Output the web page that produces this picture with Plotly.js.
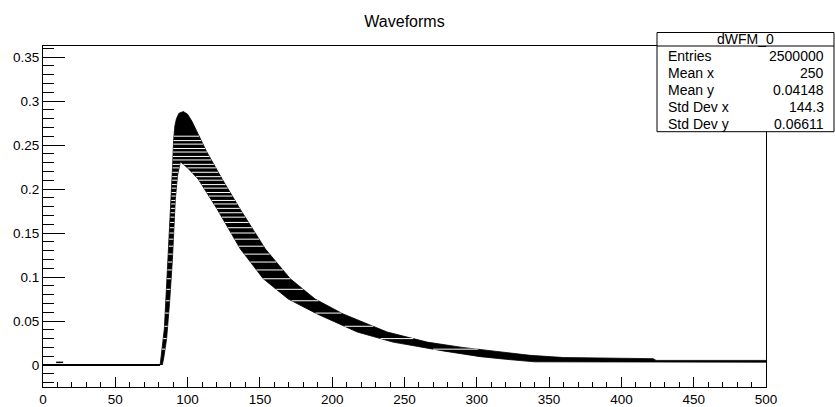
<!DOCTYPE html>
<html>
<head>
<meta charset="utf-8">
<script src="https://cdn.plot.ly/plotly-3.0.1.min.js"></script>
<style>html,body{margin:0;padding:0;background:#fff;}#chart{width:835px;height:407px;}</style>
</head>
<body>
<div id="chart"></div>
<script>
// ---- data ----
const baselineX = [0, 81];
const baselineY = [0, 0];

// upper envelope of the waveform band (leading edge, peak, decay, tail)
const upperX = [81, 83.9, 85.7, 87.5, 88.8, 89.6, 90.3, 91.2, 92.3, 94, 97, 100, 103, 107, 113, 124, 136.4, 153.7, 171, 188.2, 207.6, 238, 265.7, 290, 311.3, 336.9, 360, 422, 424, 500];
const upperY = [0, 0.041, 0.098, 0.15, 0.19, 0.225, 0.255, 0.272, 0.28, 0.286, 0.288, 0.285, 0.277, 0.263, 0.243, 0.211, 0.177, 0.132, 0.098, 0.075, 0.058, 0.0375, 0.026, 0.02, 0.016, 0.011, 0.0085, 0.0072, 0.0052, 0.0052];

// lower envelope of the band (tail back to the peak, then inner side of leading edge)
const lowerX = [500, 400, 340, 320, 302.3, 276.7, 242, 217.3, 189.6, 169.6, 152.3, 136.4, 120.5, 107.4, 100, 95, 93, 91.5, 89.5, 87.5, 85.5, 83.5, 82.5];
const lowerY = [0.0032, 0.0034, 0.0036, 0.0065, 0.0095, 0.016, 0.026, 0.0375, 0.058, 0.075, 0.098, 0.132, 0.177, 0.211, 0.224, 0.231, 0.215, 0.188, 0.12, 0.07, 0.03, 0.008, 0];

// y levels of the empty (white) bin rows crossing the band
const emptyRowsY = [0.260, 0.255, 0.251, 0.246, 0.242, 0.237, 0.233, 0.228, 0.224, 0.219, 0.214, 0.210, 0.205, 0.201, 0.196, 0.192, 0.187, 0.183, 0.178, 0.173, 0.168, 0.162, 0.156, 0.150, 0.143, 0.135, 0.126, 0.117, 0.108, 0.098, 0.086, 0.073, 0.059, 0.044, 0.030, 0.018];

// isolated entries
const strayX = [11.5, 388];
const strayY = [0.003, 0.0045];

// stats box
const statTitle = 'dWFM_0';
const statLabels = ['Entries', 'Mean x', 'Mean y', 'Std Dev x', 'Std Dev y'];
const statValues = ['2500000', '250', '0.04148', '144.3', '0.06611'];

// ---- layout geometry (pixels) ----
const W = 835, H = 407;
const L = 43, R = 766, T = 46, B = 387;
const PW = R - L, PH = B - T;
const px = v => (v - L) / PW;
const py = v => (B - v) / PH;
const FONT = 'Liberation Sans, Arial, Helvetica, sans-serif';

const polyX = upperX.concat(lowerX);
const polyY = upperY.concat(lowerY);

// white rows: where each empty row crosses the band polygon (even-odd pairs)
const rowX = [], rowYs = [];
emptyRowsY.forEach(lv => {
  const xs = [];
  const n = polyX.length;
  for (let i = 0; i < n; i++) {
    const j = (i + 1) % n;
    const y1 = polyY[i], y2 = polyY[j];
    if ((y1 <= lv && y2 > lv) || (y2 <= lv && y1 > lv)) {
      const t = (lv - y1) / (y2 - y1);
      xs.push(polyX[i] + t * (polyX[j] - polyX[i]));
    }
  }
  xs.sort((a, b) => a - b);
  for (let k = 0; k + 1 < xs.length; k += 2) {
    rowX.push(xs[k], xs[k + 1], null);
    rowYs.push(lv, lv, null);
  }
});

const traces = [
  {x: polyX, y: polyY, type: 'scatter', mode: 'lines',
   fill: 'toself', fillcolor: '#000', line: {color: '#000', width: 0.8}, hoverinfo: 'skip'},
  {x: rowX, y: rowYs, type: 'scatter', mode: 'lines', connectgaps: false,
   line: {color: '#fff', width: 1}, hoverinfo: 'skip'},
  {x: baselineX, y: baselineY, type: 'scatter', mode: 'lines',
   line: {color: '#000', width: 2.2}, hoverinfo: 'skip'},
  {x: strayX, y: strayY, type: 'scatter', mode: 'markers',
   marker: {symbol: 'line-ew-open', size: 5, color: '#000', line: {color: '#000', width: 1.5}}, hoverinfo: 'skip'}
];

const shapes = [
  {type: 'rect', xref: 'paper', yref: 'paper', x0: px(657), x1: px(834), y0: py(131.7), y1: py(32.5),
   fillcolor: '#fff', line: {color: '#000', width: 1}, layer: 'above'},
  {type: 'line', xref: 'paper', yref: 'paper', x0: px(657), x1: px(834), y0: py(46), y1: py(46),
   line: {color: '#000', width: 1}, layer: 'above'}
];

const annotations = [
  {text: statTitle, xref: 'paper', yref: 'paper', x: px(745.5), y: py(39.3), xanchor: 'center', yanchor: 'middle',
   showarrow: false, font: {family: FONT, size: 14, color: '#000'}}
];
const rowY = [55.7, 72.6, 89.5, 106.9, 124];
statLabels.forEach((lab, i) => {
  annotations.push({text: lab, xref: 'paper', yref: 'paper', x: px(666), y: py(rowY[i]), xanchor: 'left', yanchor: 'middle',
    showarrow: false, font: {family: FONT, size: 14, color: '#000'}});
  annotations.push({text: statValues[i], xref: 'paper', yref: 'paper', x: px(826), y: py(rowY[i]), xanchor: 'right', yanchor: 'middle',
    showarrow: false, font: {family: FONT, size: 14, color: '#000'}});
});

const layout = {
  width: W, height: H,
  margin: {l: L, r: W - R, t: T, b: H - B, pad: 0},
  paper_bgcolor: '#fff', plot_bgcolor: '#fff',
  showlegend: false,
  font: {family: FONT, color: '#000'},
  title: {text: 'Waveforms', x: 0.5, xref: 'paper', xanchor: 'center', y: 1 - 21 / H, yref: 'container', yanchor: 'middle',
          font: {family: FONT, size: 16, color: '#000'}},
  xaxis: {range: [0, 500], tick0: 0, dtick: 50, ticks: 'inside', ticklen: 10, tickwidth: 1, tickcolor: '#000',
          minor: {dtick: 10, ticks: 'inside', ticklen: 5, tickwidth: 1, tickcolor: '#000', showgrid: false},
          showline: true, linecolor: '#000', linewidth: 1, mirror: true, showgrid: false, zeroline: false,
          tickfont: {family: FONT, size: 13.5, color: '#000'}, fixedrange: true},
  yaxis: {range: [-0.025, 0.3625], tick0: 0, dtick: 0.05, ticks: 'inside', ticklen: 22, tickwidth: 1, tickcolor: '#000',
          minor: {dtick: 0.01, ticks: 'inside', ticklen: 11, tickwidth: 1, tickcolor: '#000', showgrid: false},
          showline: true, linecolor: '#000', linewidth: 1, mirror: true, showgrid: false, zeroline: false,
          tickfont: {family: FONT, size: 13.5, color: '#000'}, fixedrange: true},
  shapes: shapes,
  annotations: annotations
};

Plotly.newPlot('chart', traces, layout, {staticPlot: true, displayModeBar: false});
</script>
</body>
</html>
